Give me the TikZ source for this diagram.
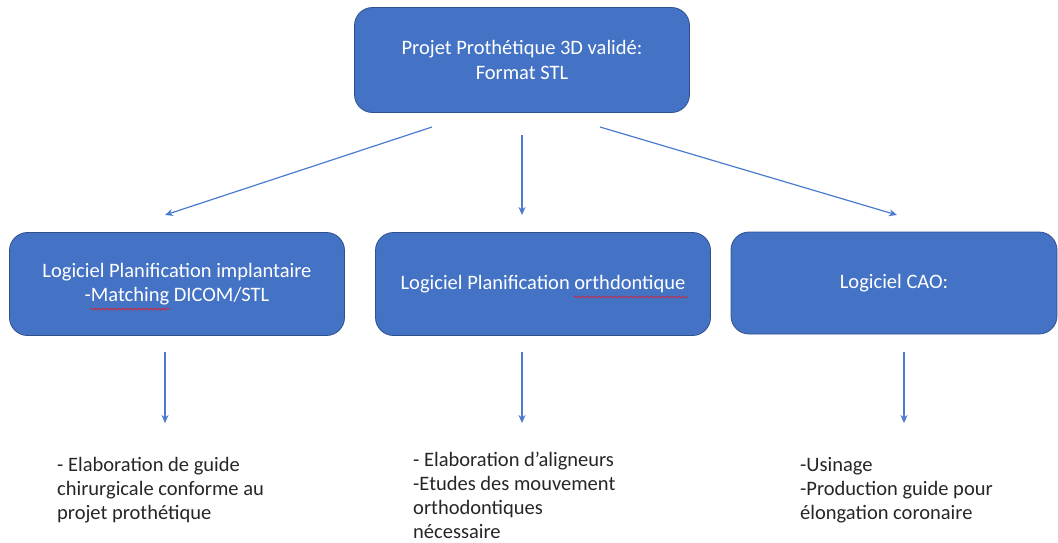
\documentclass[tikz,border=0pt]{standalone}
\usepackage{fontspec}
\setmainfont{Carlito}
\usetikzlibrary{arrows.meta,decorations.pathmorphing}
\definecolor{boxblue}{HTML}{4472C4}
\definecolor{boxline}{HTML}{2F528F}
\definecolor{arrowblue}{HTML}{4A7BD0}
\definecolor{spellred}{HTML}{E0202A}
\tikzset{
  box/.style={draw=boxline, line width=0.8pt, fill=boxblue, rounded corners=18pt,
    text=white, align=center, font=\fontsize{20.5}{24.5}\selectfont},
  conn/.style={draw=arrowblue, line width=1.2pt, -{Stealth[length=8pt,width=7pt]}},
  outtext/.style={align=left, anchor=north west, inner sep=0pt, font=\fontsize{20.5}{24}\selectfont, text=black!85},
  squiggle/.style={draw=spellred, line width=0.7pt, decorate, decoration={snake, amplitude=1pt, segment length=4pt}}
}
\begin{document}
\begin{tikzpicture}[x=1pt,y=-1pt]
\useasboundingbox (0,0) rectangle (1058,542);
\node[box, minimum width=335pt, minimum height=105pt] (top) at (522,60) {Projet Prothétique 3D validé:\\Format STL};
\node[box, minimum width=335pt, minimum height=103pt] (left) at (177,284) {Logiciel Planification implantaire\\-Matching DICOM/STL};
\node[box, minimum width=335pt, minimum height=103pt] (mid) at (543,284) {Logiciel Planification orthdontique};
\node[box, minimum width=326pt, minimum height=102pt] (right) at (894,283) {Logiciel CAO:};

\coordinate (t1) at (432,127);
\coordinate (t2) at (522,135);
\coordinate (t3) at (600,127);
\coordinate (h1) at (165,215);
\coordinate (h2) at (522,215);
\coordinate (h3) at (897,215);
\draw[conn] (t1) -- (h1);
\draw[conn] (t2) -- (h2);
\draw[conn] (t3) -- (h3);

\node[outtext] (ltext) at (57,457) {- Elaboration de guide\\chirurgicale conforme au\\projet prothétique};
\node[outtext] (mtext) at (413,452) {- Elaboration d’aligneurs\\-Etudes des mouvement\\orthodontiques\\nécessaire};
\node[outtext] (rtext) at (800,457) {-Usinage\\-Production guide pour\\élongation coronaire};

\coordinate (b1) at (165,352);
\coordinate (b2) at (522,352);
\coordinate (b3) at (904,352);
\coordinate (e1) at (165,423);
\coordinate (e2) at (522,423);
\coordinate (e3) at (904,423);
\draw[conn] (b1) -- (e1);
\draw[conn] (b2) -- (e2);
\draw[conn] (b3) -- (e3);

\draw[squiggle] (90,309) -- (170,309);
\draw[squiggle] (574,297) -- (688,297);
\end{tikzpicture}
\end{document}
